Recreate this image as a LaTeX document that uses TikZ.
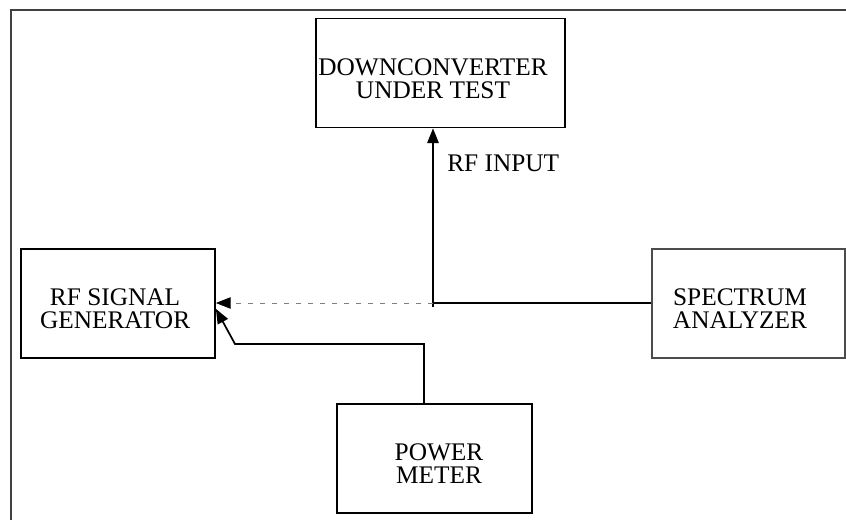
\documentclass[tikz,border=0pt]{standalone}
\usepackage{fontspec}
\setmainfont{Liberation Serif}
\usepackage{tikz}
\usetikzlibrary{arrows.meta,positioning}
\tikzset{
  ebox/.style={draw=black, line width=1.3pt, inner sep=0pt, minimum height=81.75pt},
  etxt/.style={align=center, inner sep=0pt, font=\fontsize{19}{17.3}\selectfont},
  earr/.style={-{Triangle[length=11pt,width=8.5pt]}, line width=1.3pt},
  eline/.style={line width=1.3pt},
  edash/.style={draw=gray, line width=0.6pt, dash pattern=on 4pt off 5pt, -{Triangle[length=11pt,width=8.5pt,color=black]}}
}

\begin{document}
\begin{tikzpicture}[x=0.75pt,y=-0.75pt]
\useasboundingbox (0,0) rectangle (846,520);
\draw[draw=black!75, line width=1.1pt] (11,520) -- (11,10) -- (846,10);
\node[ebox, minimum width=186.75pt, label={[etxt, xshift=-5.6pt, yshift=-4pt]center:DOWNCONVERTER\\UNDER TEST}] (dut) at (440.5,73) {};
\node[ebox, minimum width=145.5pt, label={[etxt, xshift=-2.2pt, yshift=-4pt]center:RF SIGNAL\\GENERATOR}] (siggen) at (118,303.5) {};
\node[ebox, minimum width=144.75pt, draw=black!70, line width=0.9pt, label={[etxt, xshift=-6.4pt, yshift=-4pt]center:SPECTRUM\\ANALYZER}] (specan) at (748.5,303.5) {};
\node[ebox, minimum width=146.25pt, label={[etxt, xshift=3.4pt, yshift=-4pt]center:POWER\\METER}] (pmeter) at (434.5,458.5) {};
\node[etxt, anchor=base west] (rfin) at (447,172) {RF INPUT};
\coordinate (jn) at (433,303);
\coordinate (jnlow) at (433,307);
\coordinate (pmbend) at (424,344);
\coordinate (pmkink) at (235,344);
\draw[earr] (jnlow) -- (jnlow |- dut.south);
\draw[eline] (jn) -- (jn -| specan.west);
\draw[edash] (jn) -- (jn -| siggen.east);
\draw[earr] (pmbend |- pmeter.north) -- (pmbend) -- (pmkink) -- ([yshift=-4pt]siggen.east);
\end{tikzpicture}
\end{document}
